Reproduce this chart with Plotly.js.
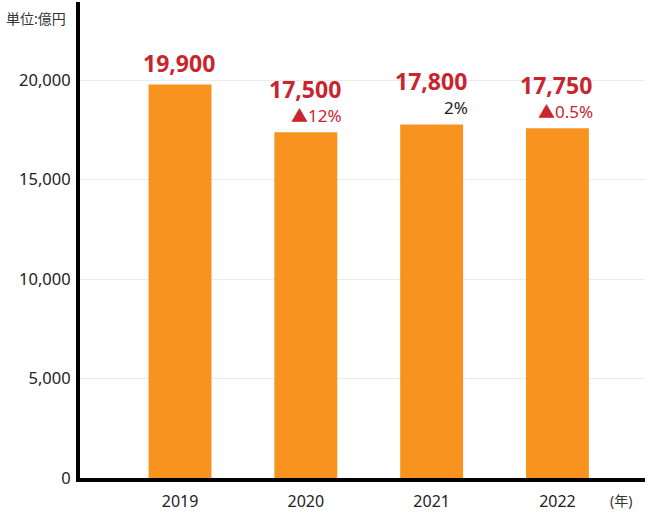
<!DOCTYPE html>
<html>
<head>
<meta charset="utf-8">
<script src="https://cdn.plot.ly/plotly-3.0.1.min.js"></script>
<style>
  html, body { margin: 0; padding: 0; background: #fff; }
  #chart { width: 650px; height: 513px; }
</style>
</head>
<body>
<div id="chart"></div>
<script>
// bar heights, value labels as printed
var years = ["2019", "2020", "2021", "2022"];
var bar_values = [19780, 17370, 17770, 17570];
var value_labels = ["19,900", "17,500", "17,800", "17,750"];
var change_labels = ["", "▲12%", "2%", "▲0.5%"];
var change_colors = ["#c9252f", "#c9252f", "#222222", "#c9252f"];

var red = "#c9252f";
var orange = "#f7931e";
var font_family = "Noto Sans, Noto Sans CJK JP, sans-serif";

var bars = {
	type: "bar",
	x: years,
	y: bar_values,
	width: 0.5,
	marker: {
		color: orange,
		line: { width: 0 }
	},
	hoverinfo: "none"
};

var annotations = [];
for (var i = 0; i < years.length; i++) {
	var has_change = change_labels[i] !== "";
	// category axis: annotation x is the category index
	annotations.push({
		x: i,
		y: bar_values[i],
		xref: "x",
		yref: "y",
		text: value_labels[i],
		showarrow: false,
		xanchor: "right",
		yanchor: "middle",
		xshift: 36,
		yshift: has_change ? 43 : 21,
		borderpad: 0,
		font: { family: font_family, size: 23, color: red, weight: "bold" }
	});
	if (has_change) {
		annotations.push({
			x: i,
			y: bar_values[i],
			xref: "x",
			yref: "y",
			text: change_labels[i],
			showarrow: false,
			xanchor: "right",
			yanchor: "middle",
			xshift: 37,
			yshift: 17,
			borderpad: 0,
			font: { family: font_family, size: 17, color: change_colors[i] }
		});
	}
}

// unit labels
annotations.push({
	x: 0, y: 1, xref: "paper", yref: "paper",
	xanchor: "left", yanchor: "middle",
	xshift: -76, yshift: -16,
	text: "単位:億円",
	showarrow: false,
	font: { family: font_family, size: 14, color: "#333333" }
});
annotations.push({
	x: 1, y: 0, xref: "paper", yref: "paper",
	xanchor: "right", yanchor: "middle",
	xshift: -11, yshift: -22,
	text: "(年)",
	showarrow: false,
	font: { family: font_family, size: 14, color: "#333333" }
});

var layout = {
	width: 650,
	height: 513,
	margin: { l: 80, r: 5, t: 2, b: 35, pad: 0 },
	paper_bgcolor: "#ffffff",
	plot_bgcolor: "#ffffff",
	showlegend: false,
	font: { family: font_family, color: "#222222" },
	xaxis: {
		type: "category",
		range: [-0.795, 3.696],
		showline: true,
		linecolor: "#000000",
		linewidth: 4,
		showgrid: false,
		zeroline: false,
		ticks: "outside",
		ticklen: 6,
		tickcolor: "rgba(0,0,0,0)",
		tickfont: { size: 16, color: "#222222" },
		fixedrange: true
	},
	yaxis: {
		range: [0, 23920],
		tickvals: [0, 5000, 10000, 15000, 20000],
		ticktext: ["0", "5,000", "10,000", "15,000", "20,000"],
		showline: true,
		linecolor: "#000000",
		linewidth: 4,
		showgrid: true,
		gridcolor: "#ebebeb",
		gridwidth: 1,
		zeroline: false,
		ticks: "outside",
		ticklen: 2,
		tickcolor: "rgba(0,0,0,0)",
		tickfont: { size: 16.5, color: "#222222" },
		fixedrange: true
	},
	annotations: annotations
};

Plotly.newPlot("chart", [bars], layout, { displayModeBar: false, staticPlot: true });
</script>
</body>
</html>
